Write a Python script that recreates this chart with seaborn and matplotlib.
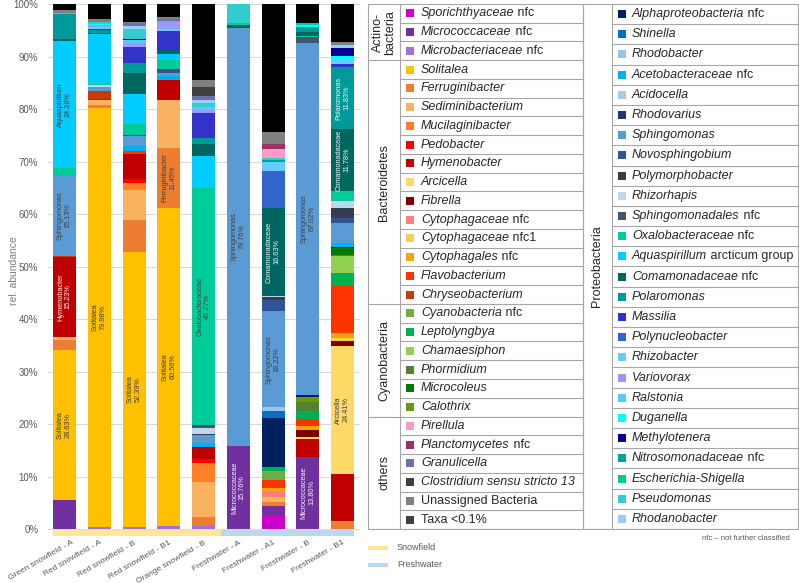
import numpy as np
import pandas as pd
import seaborn as sns
import matplotlib.pyplot as plt
import matplotlib.transforms as mtransforms
from matplotlib.patches import Rectangle

# Samples and habitat
samples = ['Green snowfield - A', 'Red snowfield - A', 'Red snowfield - B', 'Red snowfield - B1',
           'Orange snowfield - B', 'Freshwater - A', 'Freshwater - A1', 'Freshwater - B', 'Freshwater - B1']
habitat = ['Snowfield'] * 5 + ['Freshwater'] * 4
habitat_colours = {'Snowfield': '#FFE699', 'Freshwater': '#BDD7EE'}

# Taxa (stack order, bottom to top) and their colours
actino = ['Sporichthyaceae nfc', 'Micrococcaceae nfc', 'Microbacteriaceae nfc']
actino_col = ['#CC00CC', '#7030A0', '#A070DC']
bacteroidetes = ['Solitalea', 'Ferruginibacter', 'Sediminibacterium', 'Mucilaginibacter', 'Pedobacter',
                 'Hymenobacter', 'Arcicella', 'Fibrella', 'Cytophagaceae nfc', 'Cytophagaceae nfc1',
                 'Cytophagales nfc', 'Flavobacterium', 'Chryseobacterium']
bacteroidetes_col = ['#FFC000', '#ED7D31', '#F9B25F', '#FF7F27', '#FF0000', '#C00000', '#FFD966',
                     '#800000', '#FF7C80', '#FFCC4D', '#F5A30F', '#FF3300', '#C83C0A']
cyanobacteria = ['Cyanobacteria nfc', 'Leptolyngbya', 'Chamaesiphon', 'Phormidium', 'Microcoleus', 'Calothrix']
cyanobacteria_col = ['#70AD47', '#00B050', '#92D050', '#548235', '#007A00', '#6A9A0A']
proteobacteria = ['Alphaproteobacteria nfc', 'Shinella', 'Rhodobacter', 'Acetobacteraceae nfc', 'Acidocella',
                  'Rhodovarius', 'Sphingomonas', 'Novosphingobium', 'Polymorphobacter', 'Rhizorhapis',
                  'Sphingomonadales nfc', 'Oxalobacteraceae nfc', 'Aquaspirillum arcticum group',
                  'Comamonadaceae nfc', 'Polaromonas', 'Massilia', 'Polynucleobacter', 'Rhizobacter',
                  'Variovorax', 'Ralstonia', 'Duganella', 'Methylotenera', 'Nitrosomonadaceae nfc',
                  'Escherichia-Shigella', 'Pseudomonas', 'Rhodanobacter']
proteobacteria_col = ['#002060', '#0070C0', '#9DC3E6', '#00B0F0', '#A9C8EA', '#1F3864', '#5B9BD5', '#2F5597',
                      '#333F50', '#BDD7EE', '#44546A', '#00CC99', '#00CCFF', '#006660', '#009999', '#3333CC',
                      '#3366CC', '#66CCFF', '#9999FF', '#5BC8F5', '#00FFFF', '#000099', '#00A0A0', '#00CC99',
                      '#33CCCC', '#99CCFF']
others = ['Pirellula', 'Planctomycetes nfc', 'Granulicella', 'Clostridium sensu stricto 13',
          'Unassigned Bacteria', 'Taxa <0.1%']
others_col = ['#FF99CC', '#993366', '#7070A8', '#404040', '#808080', '#000000']

# Relative abundances (%)
green_snow_a = {'Micrococcaceae nfc': 5.5, 'Solitalea': 28.63, 'Ferruginibacter': 1.9, 'Sediminibacterium': 0.6,
                'Hymenobacter': 15.23, 'Chryseobacterium': 0.2, 'Sphingomonas': 15.13,
                'Oxalobacteraceae nfc': 1.5, 'Aquaspirillum arcticum group': 24.26, 'Comamonadaceae nfc': 0.3,
                'Polaromonas': 4.8, 'Pseudomonas': 0.3, 'Unassigned Bacteria': 0.6, 'Taxa <0.1%': 1.05}
red_snow_a = {'Microbacteriaceae nfc': 0.3, 'Solitalea': 79.98, 'Ferruginibacter': 0.5, 'Sediminibacterium': 0.9,
              'Pedobacter': 0.3, 'Chryseobacterium': 1.5, 'Sphingomonas': 0.7, 'Rhizorhapis': 0.4,
              'Oxalobacteraceae nfc': 0.2, 'Aquaspirillum arcticum group': 9.5, 'Comamonadaceae nfc': 0.2,
              'Polaromonas': 0.5, 'Massilia': 0.3, 'Rhizobacter': 0.3, 'Variovorax': 0.4, 'Duganella': 0.3,
              'Pseudomonas': 0.3, 'Unassigned Bacteria': 0.5, 'Taxa <0.1%': 2.92}
red_snow_b = {'Microbacteriaceae nfc': 0.45, 'Solitalea': 52.39, 'Ferruginibacter': 6.1, 'Sediminibacterium': 5.6,
              'Mucilaginibacter': 1.4, 'Pedobacter': 0.75, 'Hymenobacter': 4.8, 'Flavobacterium': 0.45,
              'Acetobacteraceae nfc': 1.0, 'Sphingomonas': 1.9, 'Sphingomonadales nfc': 0.3,
              'Oxalobacteraceae nfc': 2.1, 'Aquaspirillum arcticum group': 5.7, 'Comamonadaceae nfc': 3.9,
              'Polaromonas': 2.0, 'Massilia': 2.9, 'Variovorax': 0.9, 'Ralstonia': 0.5, 'Methylotenera': 0.2,
              'Pseudomonas': 1.9, 'Rhodanobacter': 0.5, 'Granulicella': 0.6, 'Unassigned Bacteria': 0.3,
              'Taxa <0.1%': 3.36}
red_snow_b1 = {'Microbacteriaceae nfc': 0.6, 'Solitalea': 60.56, 'Ferruginibacter': 11.45, 'Sediminibacterium': 9.1,
               'Hymenobacter': 3.9, 'Acetobacteraceae nfc': 0.6, 'Sphingomonas': 0.7, 'Novosphingobium': 0.4,
               'Sphingomonadales nfc': 0.4, 'Oxalobacteraceae nfc': 1.6, 'Aquaspirillum arcticum group': 1.1,
               'Comamonadaceae nfc': 0.8, 'Massilia': 3.7, 'Rhizobacter': 0.3, 'Variovorax': 1.3,
               'Pseudomonas': 0.3, 'Granulicella': 0.3, 'Unassigned Bacteria': 0.5, 'Taxa <0.1%': 2.39}
orange_snow_b = {'Microbacteriaceae nfc': 0.6, 'Ferruginibacter': 1.6, 'Sediminibacterium': 6.7,
                 'Mucilaginibacter': 3.7, 'Pedobacter': 0.7, 'Hymenobacter': 2.3, 'Acetobacteraceae nfc': 0.75,
                 'Sphingomonas': 1.5, 'Polymorphobacter': 0.3, 'Rhizorhapis': 1.1, 'Sphingomonadales nfc': 0.5,
                 'Oxalobacteraceae nfc': 45.27, 'Aquaspirillum arcticum group': 6.0, 'Comamonadaceae nfc': 2.4,
                 'Polaromonas': 1.1, 'Massilia': 4.7, 'Variovorax': 0.5, 'Ralstonia': 0.6, 'Pseudomonas': 0.8,
                 'Rhodanobacter': 0.6, 'Granulicella': 0.8, 'Clostridium sensu stricto 13': 1.7,
                 'Unassigned Bacteria': 1.3, 'Taxa <0.1%': 14.48}
fresh_a = {'Micrococcaceae nfc': 15.76, 'Sphingomonas': 79.76, 'Comamonadaceae nfc': 0.5,
           'Escherichia-Shigella': 0.4, 'Pseudomonas': 3.58}
fresh_a1 = {'Sporichthyaceae nfc': 2.5, 'Micrococcaceae nfc': 1.9, 'Ferruginibacter': 0.8, 'Sediminibacterium': 0.95,
            'Cytophagaceae nfc': 1.1, 'Cytophagales nfc': 0.5, 'Flavobacterium': 1.6, 'Cyanobacteria nfc': 1.8,
            'Leptolyngbya': 0.6, 'Alphaproteobacteria nfc': 9.4, 'Shinella': 1.4, 'Rhodobacter': 0.7,
            'Sphingomonas': 18.22, 'Novosphingobium': 2.2, 'Polymorphobacter': 0.5, 'Rhizorhapis': 0.3,
            'Comamonadaceae nfc': 16.63, 'Polynucleobacter': 7.0, 'Rhizobacter': 1.9,
            'Nitrosomonadaceae nfc': 0.3, 'Pseudomonas': 0.4, 'Pirellula': 1.65, 'Planctomycetes nfc': 1.0,
            'Unassigned Bacteria': 2.2, 'Taxa <0.1%': 24.45}
fresh_b = {'Micrococcaceae nfc': 13.80, 'Hymenobacter': 3.3, 'Arcicella': 0.4, 'Fibrella': 1.4,
           'Cytophagales nfc': 0.8, 'Flavobacterium': 1.3, 'Leptolyngbya': 1.5, 'Phormidium': 1.7,
           'Calothrix': 1.0, 'Alphaproteobacteria nfc': 0.4, 'Sphingomonas': 67.02, 'Sphingomonadales nfc': 1.0,
           'Oxalobacteraceae nfc': 0.25, 'Comamonadaceae nfc': 0.8, 'Polaromonas': 1.0, 'Duganella': 0.3,
           'Escherichia-Shigella': 0.4, 'Taxa <0.1%': 3.63}
fresh_b1 = {'Ferruginibacter': 1.5, 'Hymenobacter': 9.0, 'Arcicella': 24.41, 'Fibrella': 1.0,
            'Cytophagaceae nfc1': 0.4, 'Cytophagales nfc': 1.1, 'Flavobacterium': 8.8, 'Leptolyngbya': 2.5,
            'Chamaesiphon': 3.2, 'Phormidium': 0.3, 'Microcoleus': 1.3, 'Alphaproteobacteria nfc': 0.3,
            'Acetobacteraceae nfc': 0.6, 'Sphingomonas': 3.9, 'Novosphingobium': 1.0, 'Polymorphobacter': 1.9,
            'Rhizorhapis': 1.3, 'Oxalobacteraceae nfc': 1.9, 'Comamonadaceae nfc': 11.78, 'Polaromonas': 11.83,
            'Massilia': 0.6, 'Rhizobacter': 0.75, 'Duganella': 0.8, 'Methylotenera': 1.4, 'Rhodanobacter': 0.6,
            'Unassigned Bacteria': 0.5, 'Taxa <0.1%': 7.33}
sample_values = [green_snow_a, red_snow_a, red_snow_b, red_snow_b1, orange_snow_b,
                 fresh_a, fresh_a1, fresh_b, fresh_b1]

# Labels written into the bars: (sample, taxon, text, light text?)
bar_labels = [(0, 'Solitalea', 'Solitalea\n28.63%', False), (0, 'Hymenobacter', 'Hymenobacter\n15.23%', True),
              (0, 'Sphingomonas', 'Sphingomonas\n15.13%', False),
              (0, 'Aquaspirillum arcticum group', 'Aquaspirillum\n24.26%', False),
              (1, 'Solitalea', 'Solitalea\n79.98%', False), (2, 'Solitalea', 'Solitalea\n52.39%', False),
              (3, 'Solitalea', 'Solitalea\n60.56%', False), (3, 'Ferruginibacter', 'Ferruginibacter\n11.45%', False),
              (4, 'Oxalobacteraceae nfc', 'Oxalobacteraceae\n45.27%', False),
              (5, 'Micrococcaceae nfc', 'Micrococcaceae\n15.76%', True),
              (5, 'Sphingomonas', 'Sphingomonas\n79.76%', False),
              (6, 'Sphingomonas', 'Sphingomonas\n18.22%', False),
              (6, 'Comamonadaceae nfc', 'Comamonadaceae\n16.63%', True),
              (7, 'Micrococcaceae nfc', 'Micrococcaceae\n13.80%', True),
              (7, 'Sphingomonas', 'Sphingomonas\n67.02%', False),
              (8, 'Arcicella', 'Arcicella\n24.41%', False),
              (8, 'Comamonadaceae nfc', 'Comamonadaceae\n11.78%', True),
              (8, 'Polaromonas', 'Polaromonas\n11.83%', True)]

taxa = actino + bacteroidetes + cyanobacteria + proteobacteria + others
palette = dict(zip(taxa, actino_col + bacteroidetes_col + cyanobacteria_col + proteobacteria_col + others_col))

rows = []
for i, vals in enumerate(sample_values):
    for t in taxa:
        rows.append({'sample': i, 'taxon': t, 'abundance': vals.get(t, 0.0)})
df = pd.DataFrame(rows)

sns.set_theme(style='whitegrid')
plt.rcParams['font.family'] = ['Liberation Sans', 'DejaVu Sans']

W, H = 799, 583
fig = plt.figure(figsize=(W / 100, H / 100), dpi=100)
ax = fig.add_axes([48 / W, (H - 536.4) / H, 312 / W, 532.4 / H])

# seaborn stacks the last hue level at the bottom
sns.histplot(data=df, x='sample', weights='abundance', hue='taxon', hue_order=taxa[::-1],
             palette=palette, multiple='stack', discrete=True, shrink=0.66, alpha=1,
             linewidth=0, legend=False, ax=ax)

ax.set_xlim(-0.475, 8.5)
ax.set_ylim(-1.4, 100)
ax.set_yticks(range(0, 101, 10))
ax.set_yticklabels([f'{v}%' for v in range(0, 101, 10)])
ax.set_xticks(range(len(samples)))
ax.set_xticklabels(samples, rotation=30, ha='right', rotation_mode='anchor')
ax.tick_params(axis='y', length=0, pad=7, labelsize=7, labelcolor='#595959')
ax.tick_params(axis='x', length=0, pad=2, labelsize=6, labelcolor='#595959')
# the first label is nudged right so it stays inside the figure
first = ax.get_xticklabels()[0]
first.set_transform(first.get_transform() + mtransforms.ScaledTranslation(0.07, 0, fig.dpi_scale_trans))
ax.grid(False)
ax.yaxis.grid(True, color='#D9D9D9', lw=0.8)
ax.set_axisbelow(True)
sns.despine(ax=ax, left=True, bottom=True)
ax.set_xlabel('')
ax.set_ylabel('rel. abundance', color='#7F7F7F', fontsize=7.5)
ax.yaxis.set_label_coords(-0.092, 0.5)

# labels inside the bars
for i, taxon, text, light in bar_labels:
    vals = sample_values[i]
    below = sum(vals.get(t, 0.0) for t in taxa[:taxa.index(taxon)])
    ax.text(i, below + vals[taxon] / 2, text, rotation=90, ha='center', va='center',
            fontsize=5.3, linespacing=1.15, color='#F2F2F2' if light else '#404040')

# habitat band under the bars
half = 0.33
for hab in ['Snowfield', 'Freshwater']:
    idx = [i for i, h in enumerate(habitat) if h == hab]
    left = idx[0] - (half if idx[0] == 0 else 0.5)
    right = idx[-1] + (half if idx[-1] == len(samples) - 1 else 0.5)
    ax.add_patch(Rectangle((left, -1.3), right - left, 1.15, color=habitat_colours[hab],
                           lw=0, clip_on=False))

# legend table on the right (pixel coordinates)
tab = fig.add_axes([368 / W, (H - 529) / H, 430 / W, 525 / H])
tab.set_xlim(368, 798)
tab.set_ylim(529, 4)
tab.axis('off')

line_kw = dict(color='#A6A6A6', lw=0.8, clip_on=False)
legend_square = dict(palette)
legend_square['Taxa <0.1%'] = '#404040'


def split_name(name):
    if name in ('Unassigned Bacteria', 'Taxa <0.1%'):
        return '', name
    if name.startswith('Aquaspirillum'):
        return 'Aquaspirillum', ' arcticum group'
    head, _, tail = name.rpartition(' ')
    if tail.startswith('nfc'):
        return head, ' ' + tail
    return name, ''


def draw_block(groups, x0, xg, x1, sq_x, txt_x):
    n = sum(len(m) for _, m in groups)
    h = 525 / n
    row = 0
    for g, (gname, members) in enumerate(groups):
        y_top = 4 + row * h
        if g > 0:
            tab.plot([x0, x1], [y_top, y_top], **line_kw)
        for k, t in enumerate(members):
            yc = 4 + (row + 0.5) * h
            if k > 0:
                tab.plot([xg, x1], [4 + row * h] * 2, **line_kw)
            tab.scatter([sq_x], [yc], marker='s', s=26, color=legend_square[t], lw=0, clip_on=False)
            ital, reg = split_name(t)
            if ital:
                t1 = tab.text(txt_x, yc, ital, style='italic', fontsize=9, va='center', ha='left',
                              color='#262626')
                if reg:
                    tab.annotate(reg, xy=(1, 0), xycoords=t1, va='bottom', ha='left', fontsize=9,
                                 color='#262626')
            else:
                tab.text(txt_x, yc, reg, fontsize=9, va='center', ha='left', color='#262626')
            row += 1
        y_bot = 4 + row * h
        tab.text((x0 + xg) / 2, (y_top + y_bot) / 2, gname, rotation=90, ha='center', va='center',
                 fontsize=9, linespacing=0.95, multialignment='center', color='#262626')
    for xv in (x0, xg, x1):
        tab.plot([xv, xv], [4, 529], **line_kw)
    tab.plot([x0, x1], [4, 4], **line_kw)
    tab.plot([x0, x1], [529, 529], **line_kw)


draw_block([('Actino-\nbacteria', actino), ('Bacteroidetes', bacteroidetes),
            ('Cyanobacteria', cyanobacteria), ('others', others)], 368, 400, 582.5, 410, 421)
draw_block([('Proteobacteria', proteobacteria)], 582.5, 612, 798, 621.5, 632)

# habitat legend and footnote
for k, hab in enumerate(['Snowfield', 'Freshwater']):
    yy = 548 + k * 16.5
    tab.plot([368, 388], [yy, yy], color=habitat_colours[hab], lw=3, solid_capstyle='butt', clip_on=False)
    tab.text(397, yy, hab, fontsize=6.5, va='center', ha='left', color='#595959')
tab.text(790, 539, 'nfc \u2013 not further classified', fontsize=5.5, va='center', ha='right',
         color='#595959')

plt.savefig('out.png', dpi=100)
